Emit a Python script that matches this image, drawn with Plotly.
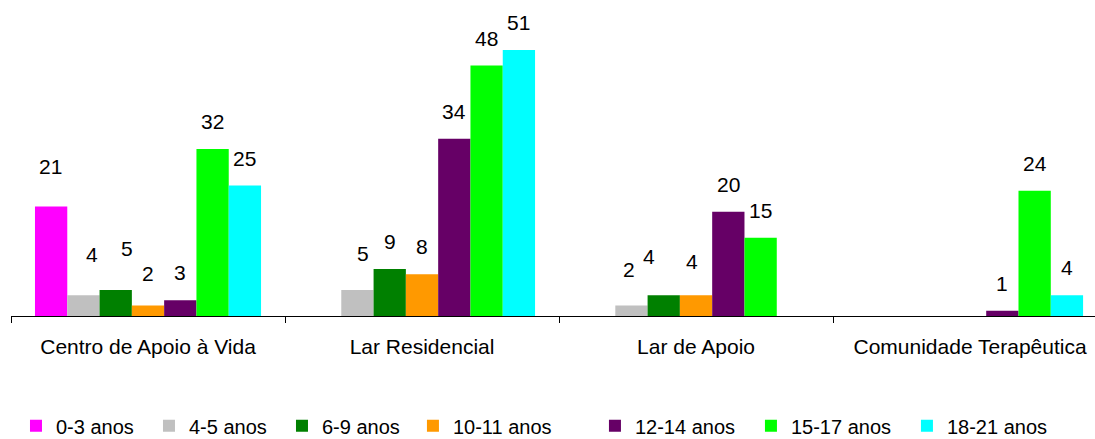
import plotly.graph_objects as go

# Categories (service type) and age-group series
categories = ["Centro de Apoio à Vida", "Lar Residencial", "Lar de Apoio", "Comunidade Terapêutica"]
age_groups = ["0-3 anos", "4-5 anos", "6-9 anos", "10-11 anos", "12-14 anos", "15-17 anos", "18-21 anos"]

anos_0_3 = [21, 0, 0, 0]
anos_4_5 = [4, 5, 2, 0]
anos_6_9 = [5, 9, 4, 0]
anos_10_11 = [2, 8, 4, 0]
anos_12_14 = [3, 34, 20, 1]
anos_15_17 = [32, 48, 15, 24]
anos_18_21 = [25, 51, 0, 4]

series_values = [anos_0_3, anos_4_5, anos_6_9, anos_10_11, anos_12_14, anos_15_17, anos_18_21]
colors = ["#FF00FF", "#C0C0C0", "#008000", "#FF9900", "#660066", "#00FF00", "#00FFFF"]

FONT = "Liberation Sans, Arial, sans-serif"
BARGAP = 0.175
n_series = len(series_values)
bar_w = (1 - BARGAP) / n_series

# label nudges in pixels (dx, dy above bar top), keyed by (series index, category index)
DEFAULT_NUDGE = (0, 26.5)
nudges = {
    (0, 0): (-1, 39), (1, 0): (9, 39.5), (2, 0): (11, 40), (3, 0): (0, 31.5),
    (1, 1): (5.5, 35),
    (1, 2): (-2.7, 35.3), (2, 2): (-15, 38), (3, 2): (-4.3, 33),
}

# legend blocks: the bottom legend row is split so the entries keep their spacing
legend_of_series = ["legend", "legend", "legend", "legend2", "legend3", "legend3", "legend3"]

fig = go.Figure()
annotations = []
for s, (name, vals, col) in enumerate(zip(age_groups, series_values, colors)):
    fig.add_trace(go.Bar(
        name=name, x=categories, y=vals, marker=dict(color=col, line=dict(width=0)),
        hoverinfo="x+y+name", legend=legend_of_series[s],
    ))
    for c, v in enumerate(vals):
        if not v:
            continue
        dx, dy = nudges.get((s, c), DEFAULT_NUDGE)
        annotations.append(dict(
            x=c + (s - (n_series - 1) / 2) * bar_w, y=v, xref="x", yref="y",
            text=str(v), showarrow=False, xanchor="center", yanchor="middle",
            xshift=dx, yshift=dy + 1, font=dict(family=FONT, size=21, color="#000000"),
        ))

legend_common = dict(
    orientation="h", xref="paper", yref="paper",
    y=-0.351, xanchor="left", yanchor="middle",
    font=dict(family=FONT, size=20, color="#000000"),
    itemwidth=30, traceorder="normal", bgcolor="rgba(0,0,0,0)",
)

fig.update_layout(
    width=1095, height=439,
    margin=dict(l=11, r=0, t=3, b=123, autoexpand=False),
    paper_bgcolor="white", plot_bgcolor="white",
    barmode="group", bargap=BARGAP, bargroupgap=0,
    font=dict(family=FONT, size=21, color="#000000"),
    annotations=annotations,
    showlegend=True,
    legend=dict(legend_common, x=0.0046, entrywidth=88),
    legend2=dict(legend_common, x=0.3708, entrywidth=120),
    legend3=dict(legend_common, x=0.5387, entrywidth=111),
    xaxis=dict(
        type="category", range=[-0.5, 3.456],
        showline=True, linecolor="#000000", linewidth=1,
        ticks="outside", ticklen=6, tickcolor="#000000", tickwidth=1,
        tickson="boundaries", showgrid=False, zeroline=False,
        ticklabelstandoff=12,
        tickfont=dict(family=FONT, size=21, color="#000000"),
        fixedrange=True,
    ),
    yaxis=dict(range=[0, 60], visible=False, showgrid=False, zeroline=False, fixedrange=True),
)

fig.write_html("out.html")
